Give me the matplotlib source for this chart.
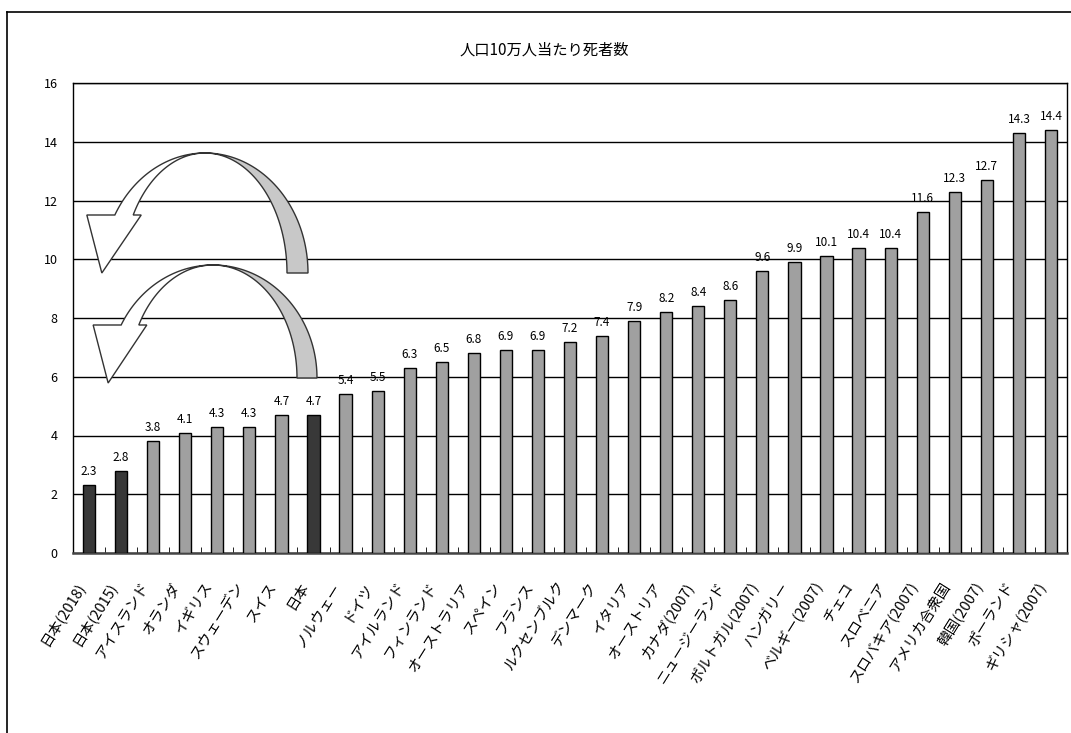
import numpy as np
import matplotlib.pyplot as plt
from matplotlib.patches import Polygon
from matplotlib.lines import Line2D
from matplotlib.transforms import ScaledTranslation

plt.rcParams['font.family'] = ['Noto Sans CJK JP', 'DejaVu Sans']

# データ
countries = ['日本(2018)', '日本(2015)', 'アイスランド', 'オランダ', 'イギリス',
             'スウェーデン', 'スイス', '日本', 'ノルウェー', 'ドイツ',
             'アイルランド', 'フィンランド', 'オーストラリア', 'スペイン', 'フランス',
             'ルクセンブルク', 'デンマーク', 'イタリア', 'オーストリア', 'カナダ(2007)',
             'ニュージーランド', 'ポルトガル(2007)', 'ハンガリー', 'ベルギー(2007)', 'チェコ',
             'スロベニア', 'スロバキア(2007)', 'アメリカ合衆国', '韓国(2007)', 'ポーランド',
             'ギリシャ(2007)']
deaths = [2.3, 2.8, 3.8, 4.1, 4.3, 4.3, 4.7, 4.7, 5.4, 5.5,
          6.3, 6.5, 6.8, 6.9, 6.9, 7.2, 7.4, 7.9, 8.2, 8.4,
          8.6, 9.6, 9.9, 10.1, 10.4, 10.4, 11.6, 12.3, 12.7, 14.3,
          14.4]
japan = [c.startswith('日本') for c in countries]
yticks = [0, 2, 4, 6, 8, 10, 12, 14, 16]
title = '人口10万人当たり死者数'

fig = plt.figure(figsize=(10.71, 7.33), dpi=100)
ax = fig.add_axes([73 / 1071, 1 - 553 / 733, 994 / 1071, 470 / 733])

x = np.arange(len(countries))
colors = ['#383838' if j else '#a0a0a0' for j in japan]
ax.bar(x, deaths, width=0.38, color=colors, edgecolor='black', linewidth=1, zorder=3)
for xi, v in zip(x, deaths):
    ax.annotate(f'{v:.1f}', (xi, v), xytext=(0, 5), textcoords='offset points',
                ha='center', va='bottom', fontsize=8.5)

ax.set_xlim(-0.5, len(countries) - 0.5)
ax.set_ylim(0, 16)
ax.set_yticks(yticks)
ax.yaxis.grid(True, color='black', linewidth=1)
ax.set_axisbelow(True)
ax.tick_params(axis='y', length=0, pad=11, labelsize=9)

ax.set_xticks(x)
ax.set_xticklabels(countries, rotation=58, ha='right', va='top',
                   rotation_mode='anchor', fontsize=10.5)
ax.set_xticks(np.arange(-0.5, len(countries), 1), minor=True)
ax.tick_params(axis='x', which='major', length=0, pad=19)
ax.tick_params(axis='x', which='minor', direction='in', length=4, color='black')
shift = ScaledTranslation(-10 / 72, 0, fig.dpi_scale_trans)
for lbl in ax.get_xticklabels():
    lbl.set_transform(lbl.get_transform() + shift)

for s in ['left', 'top', 'right']:
    ax.spines[s].set_color('black')
    ax.spines[s].set_linewidth(1)
ax.spines['bottom'].set_color('#444444')
ax.spines['bottom'].set_linewidth(1.8)

fig.text(544 / 1071, 1 - 50 / 733, title, ha='center', va='center', fontsize=11)

# 外枠
fig.add_artist(Line2D([7 / 1071, 7 / 1071], [0, 1 - 12 / 733],
                      transform=fig.transFigure, color='black', lw=1.2))
fig.add_artist(Line2D([7 / 1071, 1], [1 - 12 / 733, 1 - 12 / 733],
                      transform=fig.transFigure, color='black', lw=1.2))

# 曲がった矢印 (ピクセル座標)
ov = fig.add_axes([0, 0, 1, 1], zorder=5)
ov.set_xlim(0, 1071)
ov.set_ylim(733, 0)
ov.axis('off')
ov.patch.set_alpha(0)


def curved_arrow(cx, cy, a_out, a_in, b, y_end):
    th_end = np.pi - np.arcsin((cy - y_end) / b)
    t1 = np.linspace(0, np.pi / 2, 50)
    outer = np.c_[cx + a_out * np.cos(t1), cy - b * np.sin(t1)]
    inner = np.c_[cx + a_in * np.cos(t1), cy - b * np.sin(t1)]
    ov.add_patch(Polygon(np.r_[outer, inner[::-1]], closed=True,
                         facecolor='#c8c8c8', edgecolor='#333333', lw=1))
    t2 = np.linspace(np.pi / 2, th_end, 50)
    outer = np.c_[cx + a_out * np.cos(t2), cy - b * np.sin(t2)]
    inner = np.c_[cx + a_in * np.cos(t2), cy - b * np.sin(t2)]
    xo, xi = outer[-1, 0], inner[-1, 0]
    head = [[xo - 28, y_end], [xo - 13, y_end + 58], [xi + 8, y_end]]
    pts = np.r_[outer, head, inner[::-1]]
    ov.add_patch(Polygon(pts, closed=True, facecolor='white',
                         edgecolor='#333333', lw=1))


curved_arrow(205, 273, 103, 82, 120, 215)
curved_arrow(213, 378, 104, 84, 113, 325)

fig.savefig('out.png', dpi=100)
